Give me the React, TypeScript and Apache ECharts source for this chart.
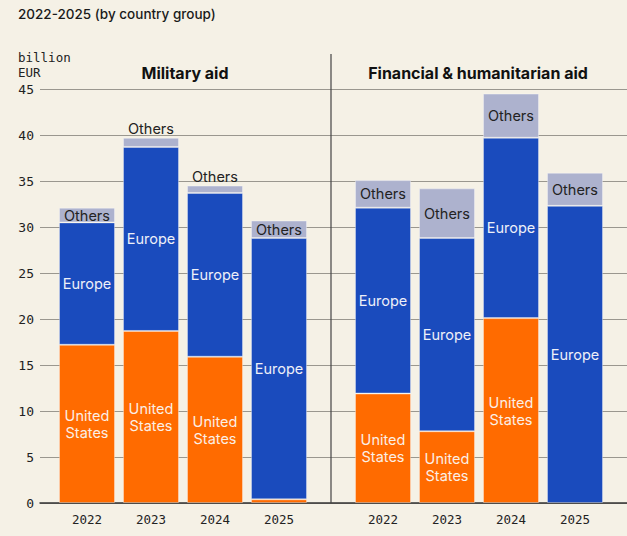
import React, { useEffect, useRef } from "react";
import * as echarts from "echarts";

const years = ["2022", "2023", "2024", "2025"];
const yTicks = [0, 5, 10, 15, 20, 25, 30, 35, 40, 45];

// Military aid (billion EUR)
const milUS = [17.2, 18.7, 15.9, 0.4];
const milEurope = [13.3, 20.0, 17.8, 28.4];
const milOthers = [1.6, 1.0, 0.8, 1.9];

// Financial & humanitarian aid (billion EUR)
const finUS = [11.9, 7.8, 20.1, 0];
const finEurope = [20.2, 21.0, 19.6, 32.3];
const finOthers = [3.0, 5.4, 4.8, 3.6];

const BG = "#F5F1E6";
const ORANGE = "#FF6B00";
const BLUE = "#1A4BBD";
const LAV = "#ADB2CE";
const SANS = "Inter, 'Noto Sans', sans-serif";
const MONO = "'DejaVu Sans Mono', 'Liberation Mono', monospace";

export default function App() {
  const ref = useRef<HTMLDivElement>(null);
  useEffect(() => {
    if (!ref.current) return;
    const chart = echarts.init(ref.current, null, { renderer: "svg" });

    const border = { borderColor: "rgba(255,255,255,0.35)", borderWidth: 1 };
    const mkSeries = (
      idx: number,
      us: number[],
      eu: number[],
      ot: number[]
    ) => [
      {
        type: "bar",
        xAxisIndex: idx,
        yAxisIndex: idx,
        stack: "s" + idx,
        barWidth: 56,
        itemStyle: { color: ORANGE, ...border },
        data: us.map((v) => ({
          value: v,
          itemStyle: v === 0 ? { borderWidth: 0 } : undefined,
          label: {
            show: v >= 3,
            formatter: "United\nStates",
            position: "inside",
            color: "#FBEFE6",
            fontFamily: SANS,
            fontSize: 14.5,
            lineHeight: 17,
          },
        })),
      },
      {
        type: "bar",
        xAxisIndex: idx,
        yAxisIndex: idx,
        stack: "s" + idx,
        barWidth: 56,
        itemStyle: { color: BLUE, ...border },
        data: eu.map((v) => ({
          value: v,
          label: {
            show: v >= 3,
            formatter: "Europe",
            position: "inside",
            color: "#EEF0F8",
            fontFamily: SANS,
            fontSize: 14.5,
          },
        })),
      },
      {
        type: "bar",
        xAxisIndex: idx,
        yAxisIndex: idx,
        stack: "s" + idx,
        barWidth: 56,
        itemStyle: { color: LAV, ...border },
        data: ot.map((v) => ({
          value: v,
          label: {
            show: true,
            formatter: "Others",
            position: v >= 1.5 ? "inside" : "top",
            distance: 2,
            color: "#222222",
            fontFamily: SANS,
            fontSize: 14.5,
          },
        })),
      },
    ];

    const hiddenY = (gi: number) => ({
      type: "value",
      gridIndex: gi,
      min: 0,
      max: 45,
      interval: 5,
      show: false,
    });
    const catX = (gi: number) => ({
      type: "category",
      gridIndex: gi,
      data: years,
      axisLine: { show: false },
      axisTick: { show: false },
      axisLabel: {
        color: "#222",
        fontFamily: MONO,
        fontSize: 12.5,
        margin: 10,
      },
    });

    chart.setOption({
      animation: false,
      backgroundColor: BG,
      grid: [
        { left: 40, right: 0, top: 89, bottom: 33 },
        { left: 55, width: 256, top: 89, bottom: 33 },
        { left: 351, width: 256, top: 89, bottom: 33 },
      ],
      xAxis: [
        {
          type: "value",
          gridIndex: 0,
          min: 0,
          max: 1,
          axisLine: { show: true, onZero: false, lineStyle: { color: "#333", width: 1.5 } },
          axisTick: { show: false },
          axisLabel: { show: false },
          splitLine: { show: false },
        },
        catX(1),
        catX(2),
      ],
      yAxis: [
        {
          type: "value",
          gridIndex: 0,
          min: 0,
          max: 45,
          interval: 5,
          data: yTicks,
          axisLine: { show: false },
          axisTick: { show: false },
          axisLabel: {
            color: "#222",
            fontFamily: MONO,
            fontSize: 13,
            margin: 6,
          },
          splitLine: { show: true, lineStyle: { color: "#9A978F", width: 1 } },
        },
        hiddenY(1),
        hiddenY(2),
      ],
      series: [
        ...mkSeries(1, milUS, milEurope, milOthers),
        ...mkSeries(2, finUS, finEurope, finOthers),
      ],
      graphic: [
        {
          type: "text",
          left: 18,
          top: 7,
          style: {
            text: "2022-2025 (by country group)",
            fill: "#1A1A1A",
            font: `500 13.5px ${SANS}`,
          },
        },
        {
          type: "text",
          left: 18,
          top: 50,
          style: {
            text: "billion\nEUR",
            fill: "#222",
            font: `12.5px ${MONO}`,
            lineHeight: 15,
          },
        },
        {
          type: "text",
          x: 185,
          y: 73,
          style: {
            text: "Military aid",
            fill: "#111",
            font: `700 16px ${SANS}`,
            align: "center",
            verticalAlign: "middle",
          },
        },
        {
          type: "text",
          x: 478,
          y: 73,
          style: {
            text: "Financial & humanitarian aid",
            fill: "#111",
            font: `700 16px ${SANS}`,
            align: "center",
            verticalAlign: "middle",
          },
        },
        {
          type: "line",
          shape: { x1: 331, y1: 54, x2: 331, y2: 503 },
          style: { stroke: "#444", lineWidth: 1.2 },
          z: 100,
        },
      ],
    });
    return () => chart.dispose();
  }, []);
  return (
    <div
      ref={ref}
      style={{ width: 627, height: 536, position: "absolute", left: 0, top: 0 }}
    />
  );
}
